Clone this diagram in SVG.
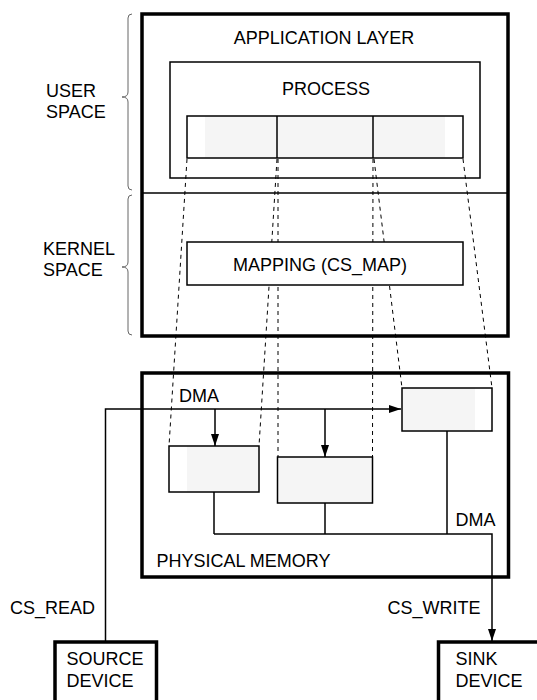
<svg xmlns="http://www.w3.org/2000/svg" width="537" height="700" viewBox="0 0 537 700">
<defs>
<marker id="ah" viewBox="0 0 12 8" refX="12" refY="4" markerWidth="12" markerHeight="8" markerUnits="userSpaceOnUse" orient="auto">
<path d="M0,0 L12,4 L0,8 z" fill="#000"/>
</marker>
<style>
text{font-family:"Liberation Sans",Arial,sans-serif;font-size:18px;fill:#000}
.thick{fill:none;stroke:#000;stroke-width:3.5}
.box{fill:#fff;stroke:#000;stroke-width:1.5}
.gbox{fill:#f5f5f5;stroke:#000;stroke-width:1.5}
.dash{fill:none;stroke:#000;stroke-width:1;stroke-dasharray:4,4}
.ln{fill:none;stroke:#000;stroke-width:1.5}
.brace{fill:none;stroke:#666;stroke-width:1}
.mid{text-anchor:middle}
</style>
</defs>
<rect width="537" height="700" fill="#fff"/>

<g id="braces">
<path class="brace" d="M132,14 Q128,14 128,18 L128,92 Q128,97 122,97 Q128,97 128,102 L128,186 Q128,190 132,190"/>
<path class="brace" d="M132,195 Q128,195 128,199 L128,262 Q128,267 122,267 Q128,267 128,272 L128,331 Q128,335 132,335"/>
<text x="46" y="97">USER</text>
<text x="46" y="118">SPACE</text>
<text x="43" y="255">KERNEL</text>
<text x="43" y="276">SPACE</text>
</g>

<g id="application-layer">
<rect class="thick" x="142" y="14" width="366" height="322"/>
<line class="ln" x1="142" y1="193" x2="508" y2="193"/>
<text class="mid" x="324" y="44">APPLICATION LAYER</text>
</g>

<g id="process">
<rect class="box" x="170" y="62" width="310" height="116"/>
<text class="mid" x="326" y="95">PROCESS</text>
</g>

<g id="connectors">
<line class="dash" x1="187" y1="159" x2="169" y2="446"/>
<line class="dash" x1="277" y1="159" x2="259" y2="446"/>
<line class="dash" x1="278" y1="159" x2="278" y2="457"/>
<line class="dash" x1="373" y1="159" x2="372.5" y2="457"/>
<line class="dash" x1="374" y1="159" x2="402" y2="388"/>
<line class="dash" x1="463" y1="159" x2="492" y2="388"/>
<polyline class="ln" points="105.5,642 105.5,409 401,409" marker-end="url(#ah)"/>
<line class="ln" x1="215" y1="409" x2="215" y2="446" marker-end="url(#ah)"/>
<line class="ln" x1="325" y1="409" x2="325" y2="457" marker-end="url(#ah)"/>
<line class="ln" x1="214" y1="492" x2="214" y2="534"/>
<line class="ln" x1="325" y1="503" x2="325" y2="534"/>
<line class="ln" x1="447" y1="431" x2="447" y2="534"/>
<polyline class="ln" points="214,534 492,534 492,641" marker-end="url(#ah)"/>
</g>

<g id="buffer">
<rect x="187" y="116" width="276" height="42" fill="#fff"/>
<rect x="205" y="116" width="240" height="42" fill="#f5f5f5"/>
<rect x="187" y="116" width="276" height="42" fill="none" stroke="#000" stroke-width="1.5"/>
<line class="ln" x1="277" y1="116" x2="277" y2="158"/>
<line class="ln" x1="373" y1="116" x2="373" y2="158"/>
</g>

<g id="mapping">
<rect class="box" x="187" y="242" width="276" height="43"/>
<text class="mid" x="320" y="271">MAPPING (CS_MAP)</text>
</g>

<g id="physical-memory">
<rect class="thick" x="142" y="373" width="366.5" height="204"/>
<text x="156.5" y="567">PHYSICAL MEMORY</text>
</g>

<g id="mem-block-1">
<rect x="169" y="446" width="90" height="46" fill="#fff"/>
<rect x="187" y="446" width="72" height="46" fill="#f5f5f5"/>
<rect x="169" y="446" width="90" height="46" fill="none" stroke="#000" stroke-width="1.5"/>
</g>

<g id="mem-block-2">
<rect class="gbox" x="277.5" y="457" width="95" height="46"/>
</g>

<g id="mem-block-3">
<rect x="402" y="388" width="90" height="43" fill="#fff"/>
<rect x="402" y="388" width="73" height="43" fill="#f5f5f5"/>
<rect x="402" y="388" width="90" height="43" fill="none" stroke="#000" stroke-width="1.5"/>
</g>

<g id="labels">
<text x="179" y="402">DMA</text>
<text x="455.5" y="526">DMA</text>
<text x="10" y="614">CS_READ</text>
<text x="387.5" y="614">CS_WRITE</text>
</g>

<g id="source-device">
<rect class="thick" x="55" y="642" width="101.5" height="70"/>
<text x="66.5" y="665">SOURCE</text>
<text x="66.5" y="687">DEVICE</text>
</g>

<g id="sink-device">
<rect class="thick" x="438.5" y="642" width="110" height="70"/>
<text x="455.5" y="665">SINK</text>
<text x="455.5" y="687">DEVICE</text>
</g>
</svg>
